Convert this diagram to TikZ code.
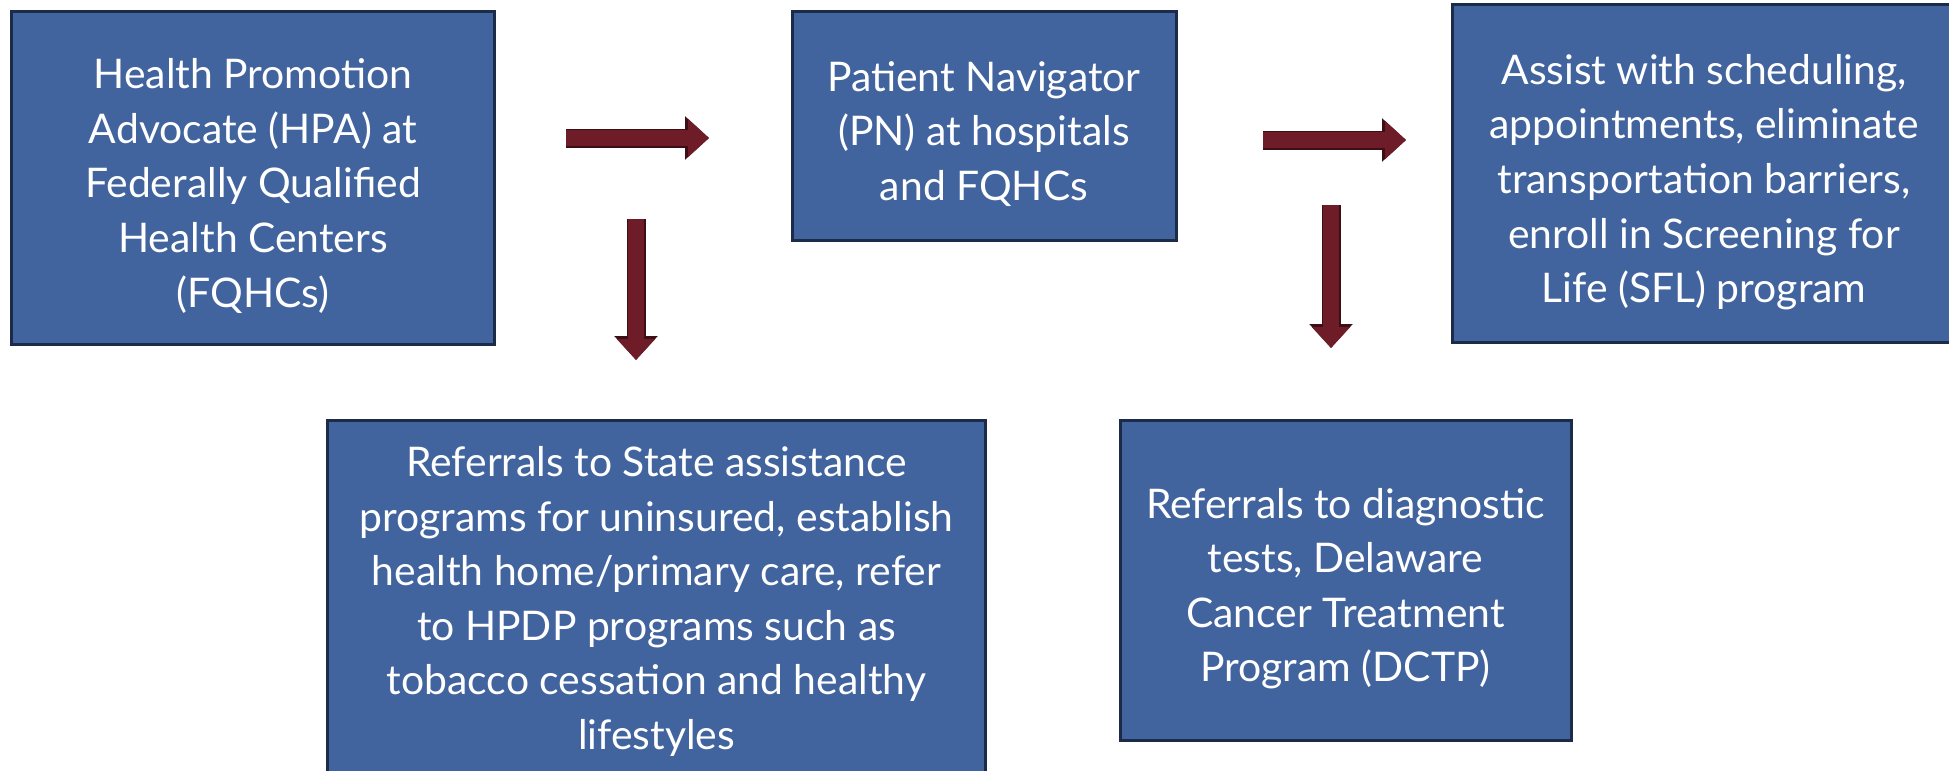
\documentclass[tikz,border=0pt]{standalone}
\usepackage{fontspec}
\setmainfont{Lato}
\usetikzlibrary{arrows.meta}
\definecolor{boxfill}{HTML}{41639E}
\definecolor{boxline}{HTML}{1C2B48}
\definecolor{arrowfill}{HTML}{6E1C28}
\definecolor{arrowline}{HTML}{3C0E16}
\newcommand{\bxtxt}[2][-4.5bp]{\raisebox{#1}[\height][\depth]{\begin{tabular}{@{}c@{}}#2\end{tabular}}}
\begin{document}
\begin{tikzpicture}[x=0.5bp,y=-0.5bp,
  box/.style={draw=boxline, line width=1.5bp, fill=boxfill, text=white, align=center,
    inner sep=0pt, font=\fontsize{20.5}{27.4}\selectfont},
  blockarrow/.style={arrowfill, line width=8bp, -{Triangle[width=18.5bp,length=10.5bp]},
    preaction={draw=arrowline, line width=9.5bp, -{Triangle[width=21bp,length=12bp]}}}]
\useasboundingbox (0,0) rectangle (1949,770);
\clip (0,0) rectangle (1949,770);
\fill[white] (0,0) rectangle (1949,770);

\node[box, minimum width=241bp, minimum height=166bp] (hpa) at (253,178)
  {\bxtxt{Health Promotion\\Advocate (HPA) at\\Federally Qualified\\Health Centers\\(FQHCs)}};
\node[box, minimum width=192bp, minimum height=114bp] (pn) at (984,126)
  {\bxtxt{Patient Navigator\\(PN) at hospitals\\and FQHCs}};
\node[box, minimum width=252bp, minimum height=168.5bp] (assist) at (1704,173.5)
  {\bxtxt{Assist with scheduling,\\appointments, eliminate\\transportation barriers,\\enroll in Screening for\\Life (SFL) program}};
\node[box, minimum width=328.5bp, minimum height=181bp] (state) at (656.5,601)
  {\bxtxt[-0.5bp]{Referrals to State assistance\\programs for uninsured, establish\\health home/primary care, refer\\to HPDP programs such as\\tobacco cessation and healthy\\lifestyles}};
\node[box, minimum width=225.5bp, minimum height=160bp] (diag) at (1345.5,580)
  {\bxtxt{Referrals to diagnostic\\tests, Delaware\\Cancer Treatment\\Program (DCTP)}};

\coordinate (a1s) at (566,138);
\coordinate (a1e) at (709,138);
\coordinate (a2s) at (636,219);
\coordinate (a2e) at (636,360);
\coordinate (a3s) at (1263,140);
\coordinate (a3e) at (1406,140);
\coordinate (a4s) at (1331,205);
\coordinate (a4e) at (1331,348);

\draw[blockarrow] (a1s) -- (a1e);
\draw[blockarrow] (a2s) -- (a2e);
\draw[blockarrow] (a3s) -- (a3e);
\draw[blockarrow] (a4s) -- (a4e);
\end{tikzpicture}
\end{document}
